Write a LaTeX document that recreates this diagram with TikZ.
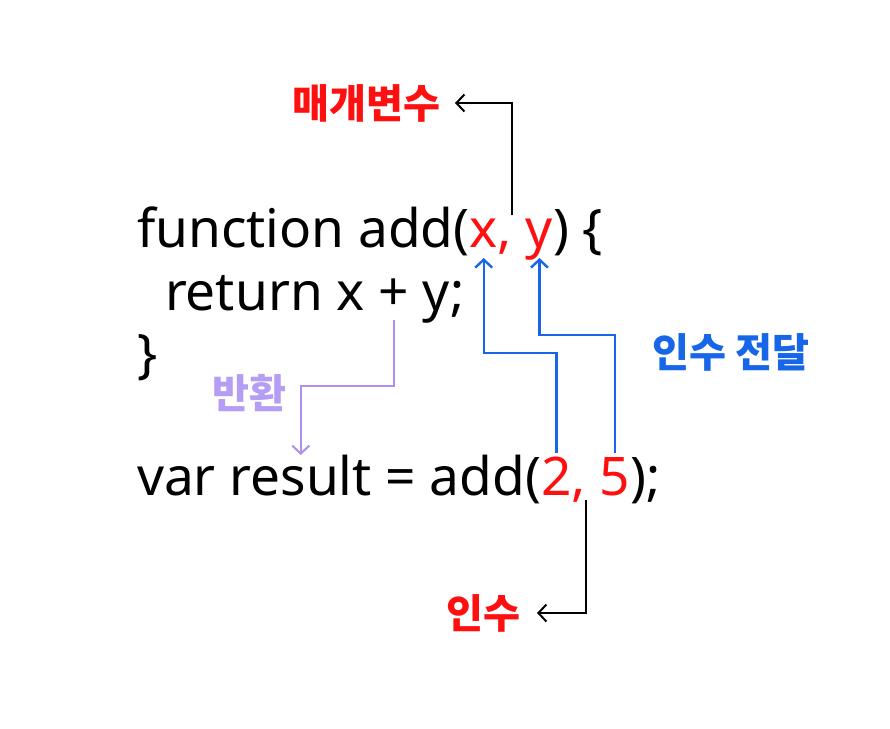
\documentclass[tikz,border=0pt]{standalone}
\usepackage{fontspec}
\setmainfont{Noto Sans}
\newfontfamily\korfont{Noto Sans CJK KR}
\usetikzlibrary{arrows.meta,calc}
\definecolor{cred}{HTML}{FF1010}
\definecolor{cblue}{HTML}{1766E8}
\definecolor{cpurp}{HTML}{B59CF4}
\definecolor{cpurpline}{HTML}{AE8EF0}
\newlength\codew
\newlength\korw
\begin{document}
\settowidth{\codew}{\fontsize{40}{48}\selectfont function add(x,~y)~\{}
\pgfmathsetmacro\codesz{466/\codew*40}
\settowidth{\korw}{\korfont\bfseries\fontsize{40}{48}\selectfont 매개변수}
\pgfmathsetmacro\korsz{148/\korw*40}
\def\codefnt{\fontsize{\codesz}{\codesz}\selectfont}
\def\korfnt{\korfont\bfseries\fontsize{\korsz}{\korsz}\selectfont}
\begin{tikzpicture}[x=1pt,y=-1pt,
  code/.style={inner sep=0pt, outer sep=0pt, anchor=base west, font=\codefnt},
  lbl/.style={inner sep=0pt, outer sep=0pt, font=\korfnt},
  barb/.style={-{Straight Barb[length=8pt,width=17pt]}},
  bk/.style={draw=black, line width=2pt, barb},
  bl/.style={draw=cblue, line width=2.4pt, barb},
  pu/.style={draw=cpurpline, line width=2pt, barb}]
\useasboundingbox[fill=white] (0,0) rectangle (890,728);
% line 1
\node[code] (f1) at (137,247) {function add(};
\node[code, text=cred] (xn) at (f1.base east) {x};
\node[code, text=cred] (c1) at (xn.base east) {,~\null};
\node[code, text=cred] (yn) at (c1.base east) {y};
\node[code] (f2) at (yn.base east) {)~\{};
% line 2
\node[code] (r1) at (165,310) {return x~\null};
\node[code] (plus) at (r1.base east) {+};
\node[code] (r2) at (plus.base east) {~y;};
% line 3
\node[code] (cb) at (137,372) {\}};
% line 4
\node[code] (v1) at (137,495) {var~\null};
\node[code] (res) at (v1.base east) {result};
\node[code] (v2) at (res.base east) {~=~add(};
\node[code, text=cred] (n2) at (v2.base east) {2};
\node[code, text=cred] (c2) at (n2.base east) {,~\null};
\node[code, text=cred] (n5) at (c2.base east) {5};
\node[code] (v3) at (n5.base east) {);};
% labels
\node[lbl, text=cred] (mv) at (366,103) {매개변수};
\node[lbl, text=cblue] (pass) at (731,352) {인수 전달};
\node[lbl, text=cpurp] (ret) at (249,393) {반환};
\node[lbl, text=cred] (arg) at (483,613) {인수};
% helper coordinates
\coordinate (h1) at (0,353);
\coordinate (h2) at (0,335);
\coordinate (h3) at (0,386);
\coordinate (t1) at ($(xn.base)!0.5!(yn.base)$);
\coordinate (b1) at ($(n2.base)!0.5!(n5.base)$);
% connectors
\draw[bk] ([yshift=32pt]t1) |- ([xshift=15pt]mv.east);
\draw[bk] ([yshift=-5pt]b1) |- ([xshift=17pt]arg.east);
\draw[bl] ([yshift=42pt]n2.base) -- (n2.base |- h1) -| ([yshift=-11pt]xn.base);
\draw[bl] ([yshift=42pt]n5.base) -- (n5.base |- h2) -| ([yshift=-11pt]yn.base);
\draw[pu] ([yshift=-10pt]plus.base) -- (plus.base |- h3) -| ([yshift=40pt]res.base);
\end{tikzpicture}
\end{document}
